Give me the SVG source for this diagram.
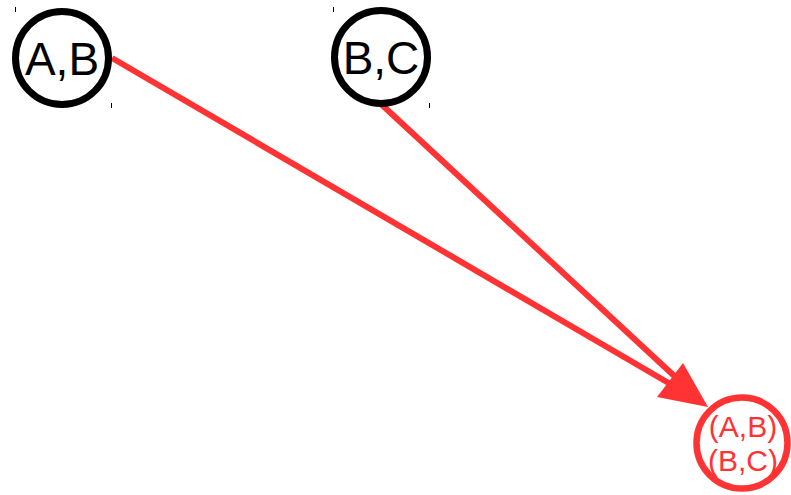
<svg xmlns="http://www.w3.org/2000/svg" width="791" height="495" viewBox="0 0 791 495">
<style>
.node{fill:#fff;stroke:#000;stroke-width:7}
.lbl{font-family:"Liberation Sans",Arial,sans-serif;font-size:46px;fill:#000;text-anchor:middle}
.tick{stroke:#000;stroke-width:1}
.edge{stroke:#ff3333;stroke-width:6;fill:none}
.rnode{fill:#fff;stroke:#ff3333;stroke-width:6.5}
.rlbl{font-family:"Liberation Sans",Arial,sans-serif;font-size:30px;fill:#ff3333;text-anchor:middle}
</style>
<rect width="791" height="495" fill="#fff"/>
<g id="connectors">
<line class="edge" x1="112" y1="58" x2="672" y2="385"/>
<line class="edge" x1="381" y1="104" x2="684" y2="385"/>
<polygon points="683,363 657,397 708,407" fill="#ff3333"/>
</g>
<g id="node-ab">
<line class="tick" x1="15.5" y1="7" x2="15.5" y2="12"/>
<line class="tick" x1="111.5" y1="103" x2="111.5" y2="108"/>
<circle class="node" cx="62" cy="58" r="46.5"/>
<text class="lbl" x="62" y="75">A,B</text>
</g>
<g id="node-bc">
<line class="tick" x1="333.5" y1="7" x2="333.5" y2="12"/>
<line class="tick" x1="429.5" y1="103" x2="429.5" y2="108"/>
<circle class="node" cx="381" cy="57" r="46.5"/>
<text class="lbl" x="381" y="74">B,C</text>
</g>
<g id="node-abbc">
<circle class="rnode" cx="742" cy="443" r="45.5"/>
<text class="rlbl" x="743" y="437">(A,B)</text>
<text class="rlbl" x="743" y="471">(B,C)</text>
</g>
</svg>
